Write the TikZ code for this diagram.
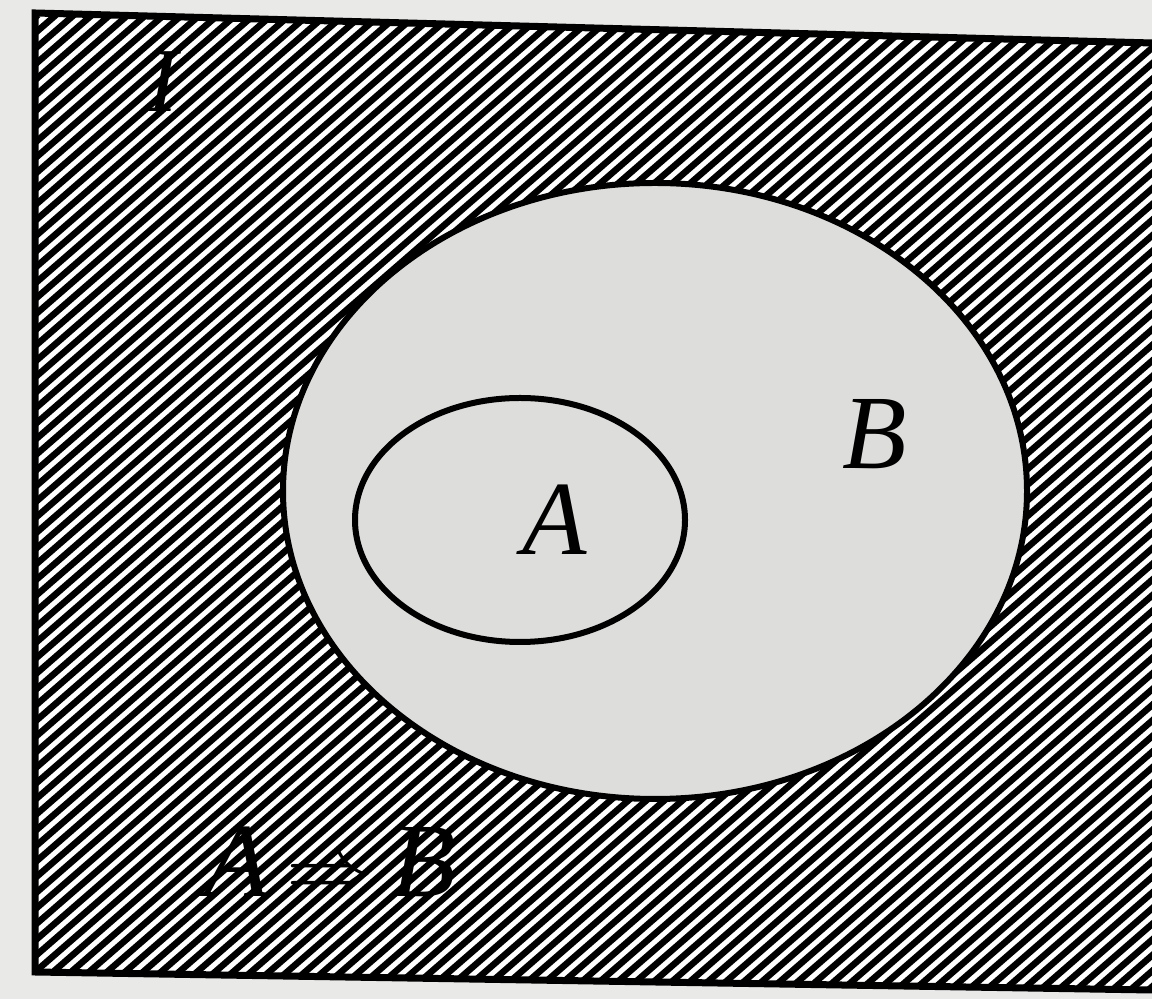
\documentclass[tikz,border=0pt]{standalone}
\usepackage{fontspec}
\setmainfont{Liberation Serif}
\definecolor{paper}{RGB}{233,233,231}
\definecolor{setgray}{RGB}{221,221,219}
\tikzset{
  hatch/.style={line width=0.065cm,black},
  frameline/.style={line width=0.07cm,black},
  setline/.style={line width=0.06cm,black},
  setlabel/.style={font=\fontsize{30}{36}\selectfont\itshape,inner sep=0pt}
}

\begin{document}
\begin{tikzpicture}
\useasboundingbox (0,0) rectangle (11.52,9.99);
\fill[paper] (0,0) rectangle (11.52,9.99);
% ---- universe I : hatched frame ----
\fill[white] (0.35,9.86) -- (11.52,9.56) -- (11.52,0.09) -- (0.35,0.27) -- cycle;
\begin{scope}
  \clip (0.35,9.86) -- (11.52,9.56) -- (11.52,0.09) -- (0.35,0.27) -- cycle;
  \foreach \k in {0,...,128}
    \draw[hatch] ({-11.3+0.18*\k},0) -- ++(41:15);
\end{scope}
\draw[frameline] (11.52,9.56) -- (0.35,9.86) -- (0.35,0.27) -- (11.52,0.09);
% ---- set B and subset A ----
\filldraw[setline,fill=setgray] (6.55,5.08) ellipse [x radius=3.72,y radius=3.08];
\draw[setline] (5.20,4.79) ellipse [x radius=1.65,y radius=1.22];
% ---- labels ----
\node[setlabel,font=\fontsize{26}{30}\selectfont\itshape] (lblI) at (1.63,9.17) {I};
\node[setlabel] (lblA) at (5.55,4.79) {A};
\node[setlabel] (lblB) at (8.75,5.65) {B};
\node[setlabel] (lblImp) at (3.30,1.37) {A\,$\Rightarrow$\,B};
\end{tikzpicture}
\end{document}
